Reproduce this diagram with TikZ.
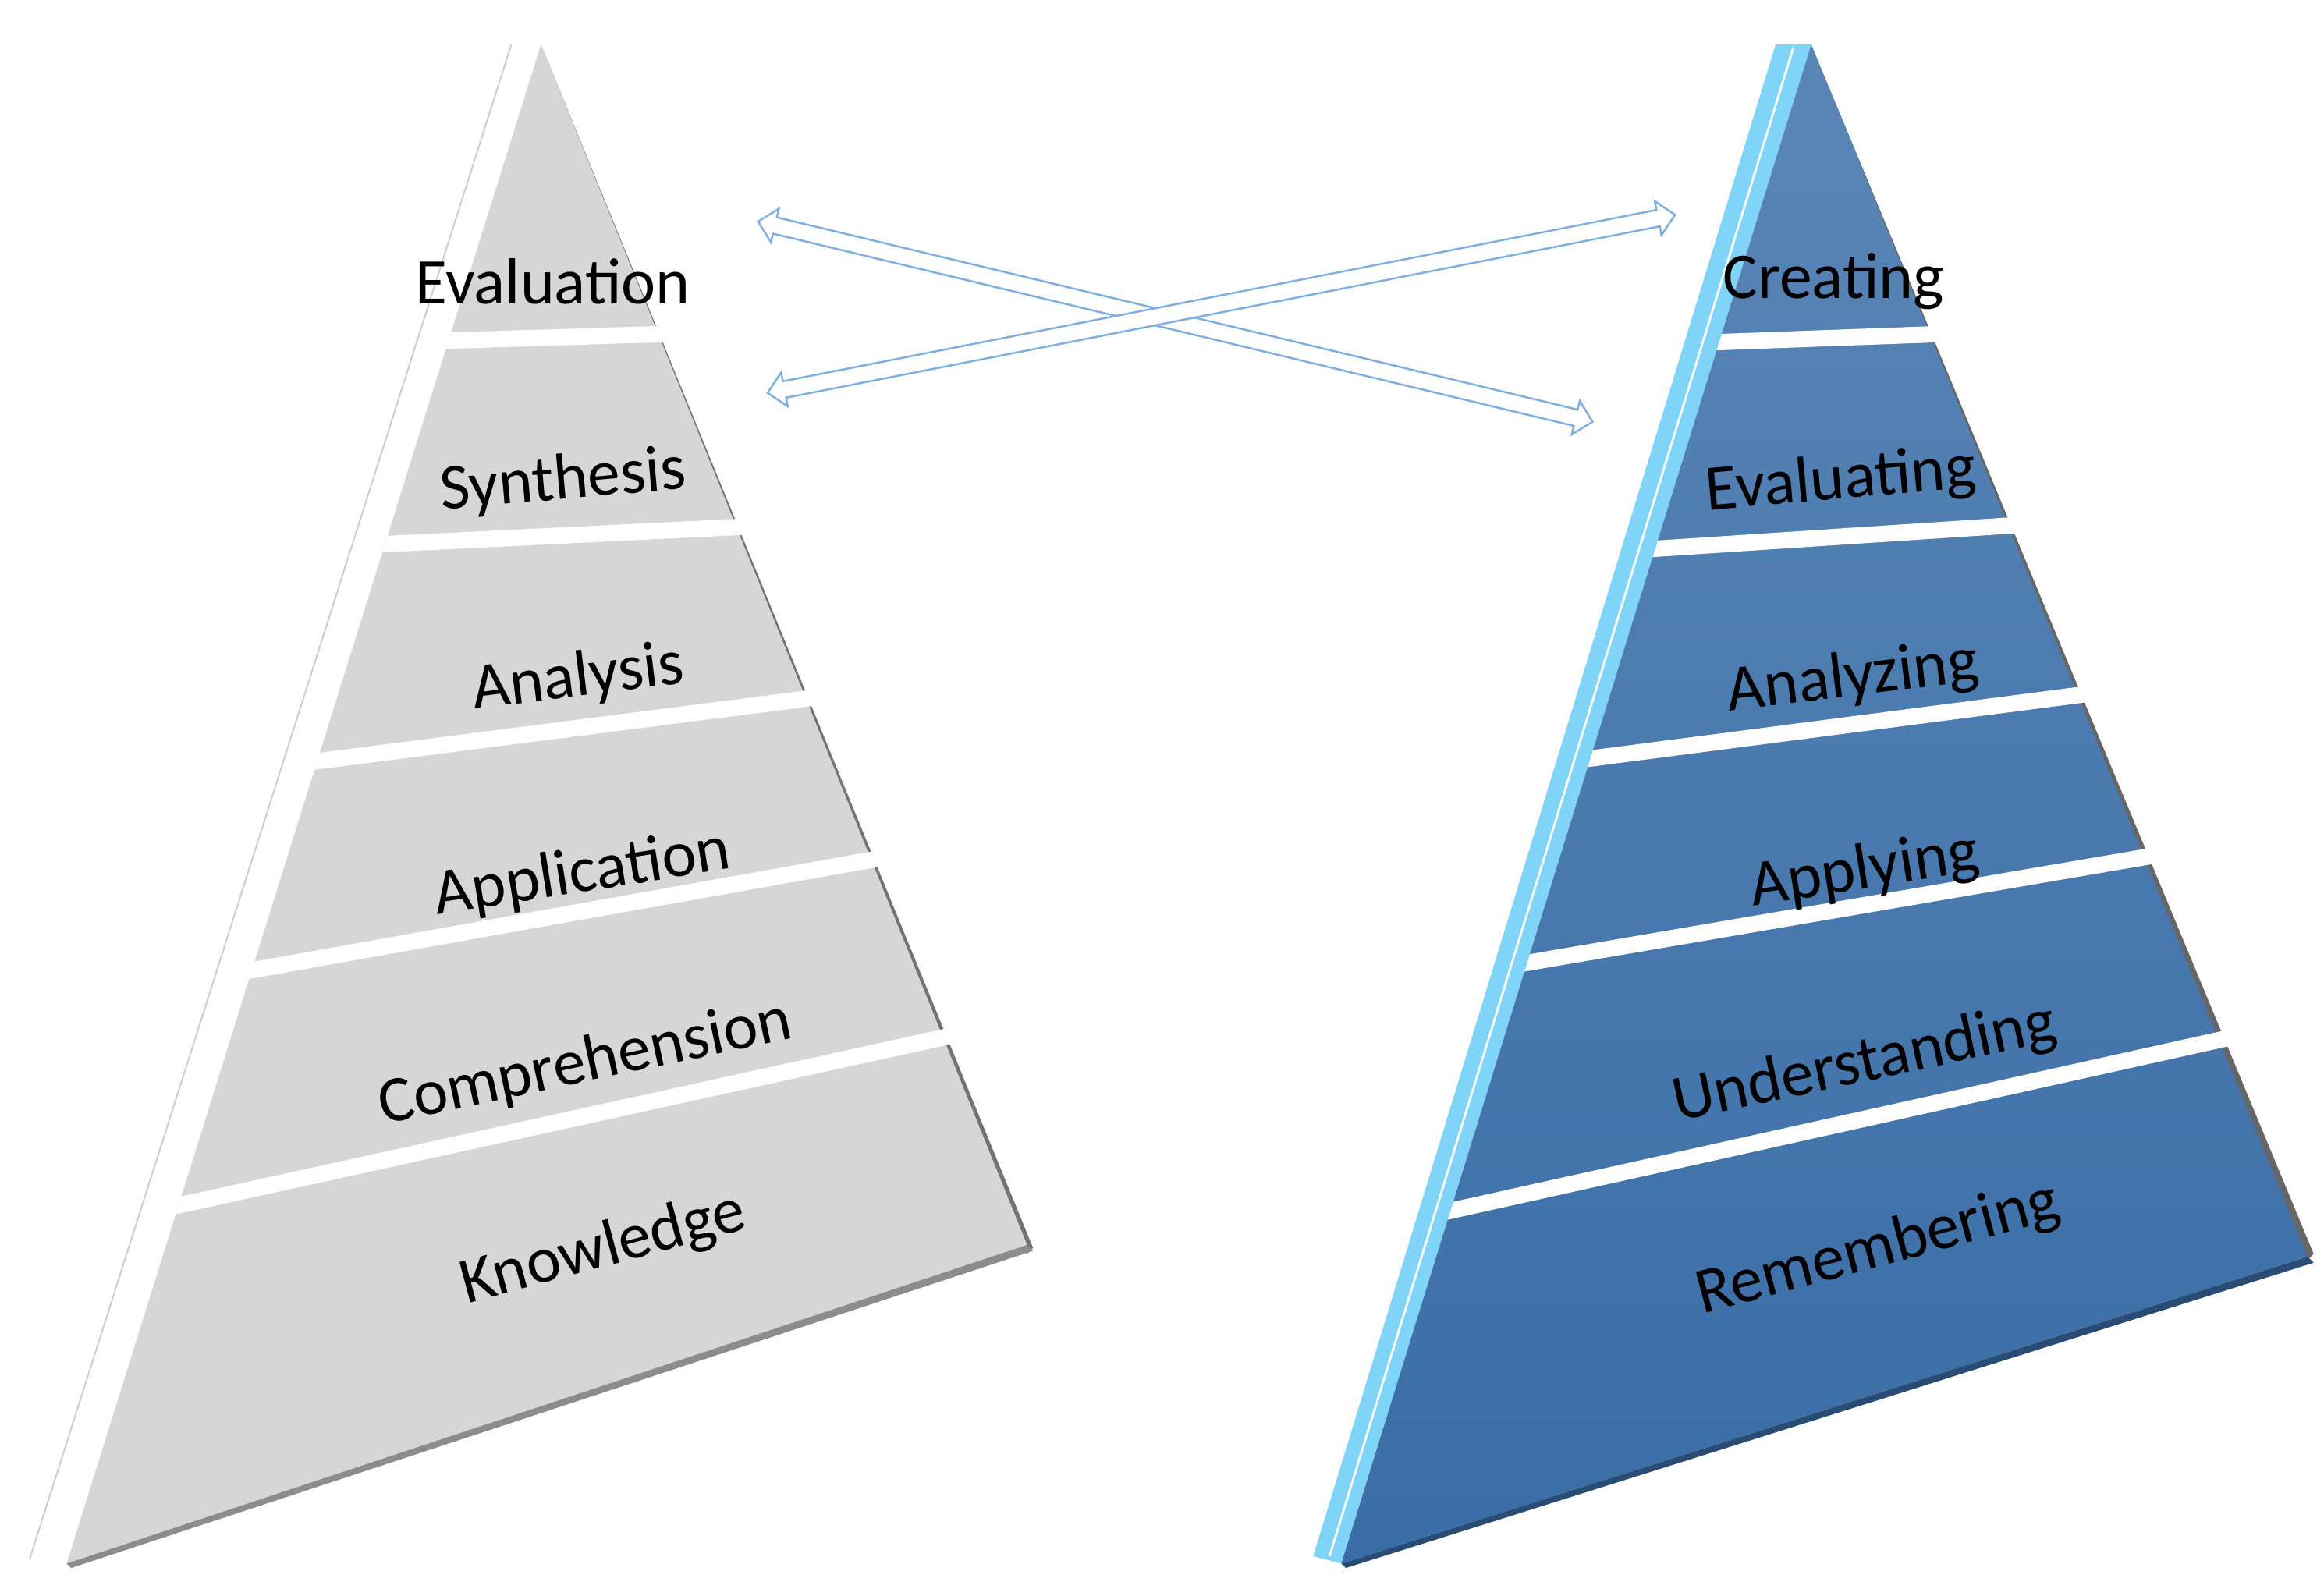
\documentclass[tikz,border=0pt]{standalone}
\usepackage{fontspec}
\setmainfont{Carlito}
\usetikzlibrary{shapes.arrows}
\definecolor{pgray}{HTML}{D6D6D6}
\definecolor{pblueT}{HTML}{5A86B6}
\definecolor{pblueB}{HTML}{3A6DA6}
\definecolor{pside}{HTML}{7FD4F8}
\definecolor{arr}{HTML}{7FAEE0}
\begin{document}
\begin{tikzpicture}[x=1pt,y=-1pt,
  lbl/.style={font=\fontsize{44}{46}\selectfont, text=black},
  sep/.style={white, line width=11pt},
  dbl/.style={double arrow, draw=arr, fill=white, line width=1.3pt,
     inner sep=5pt, double arrow head extend=6pt, double arrow head indent=0pt}]
\useasboundingbox (0,0) rectangle (1568,1072);
% ---------- left pyramid
\fill[white] (345,30) -- (365,30) -- (45,1055) -- (20,1052) -- cycle;
\draw[gray!40, line width=1pt] (345,30) -- (20,1052);
\fill[black!55] (365,30) -- (697,842) -- (693,846) -- cycle;
\fill[pgray] (365,30) -- (693,840) -- (45,1055) -- cycle;
\fill[black!45] (693,840) -- (697,844) -- (48,1058) -- (45,1055) -- cycle;
\begin{scope}
\clip (365,30) -- (700,840) -- (45,1055) -- cycle;
\draw[sep] (200,233) -- (460,225);
\draw[sep] (200,370) -- (510,355);
\draw[sep] (180,518) -- (555,470);
\draw[sep] (140,660) -- (600,578);
\draw[sep] (90,820) -- (650,697);
\end{scope}
\node[lbl] (l1) at (373,190) {Evaluation};
\node[lbl, rotate=5] (l2) at (380,325) {Synthesis};
\node[lbl, rotate=7] (l3) at (390,458) {Analysis};
\node[lbl, rotate=9] (l4) at (393,590) {Application};
\node[lbl, rotate=12] (l5) at (395,718) {Comprehension};
\node[lbl, rotate=15] (l6) at (407,843) {Knowledge};
% ---------- right pyramid
\fill[pside] (1198,30) -- (1222,30) -- (905,1055) -- (886,1050) -- cycle;
\draw[white, line width=1.5pt] (1210,32) -- (897,1050);
\fill[black!60] (1222,30) -- (1561,846) -- (1557,850) -- cycle;
\shade[top color=pblueT, bottom color=pblueB] (1222,30) -- (1557,848) -- (905,1055) -- cycle;
\fill[pblueB!70!black] (1557,848) -- (1561,852) -- (908,1058) -- (905,1055) -- cycle;
\begin{scope}
\clip (1222,30) -- (1564,848) -- (905,1055) -- cycle;
\draw[sep] (1100,233) -- (1320,225);
\draw[sep] (1060,374) -- (1365,354);
\draw[sep] (1010,520) -- (1410,468);
\draw[sep] (970,660) -- (1455,577);
\draw[sep] (920,830) -- (1505,700);
\end{scope}
\node[lbl] (r1) at (1237,190) {Creating};
\node[lbl, rotate=5] (r2) at (1242,325) {Evaluating};
\node[lbl, rotate=7] (r3) at (1250,458) {Analyzing};
\node[lbl, rotate=9] (r4) at (1258,588) {Applying};
\node[lbl, rotate=12] (r5) at (1258,718) {Understanding};
\node[lbl, rotate=15] (r6) at (1267,843) {Remembering};
% ---------- arrows
\node[dbl, minimum height=579pt, rotate=-13.5] (a1) at (793,217) {};
\node[dbl, minimum height=624pt, rotate=11.1] (a2) at (824,205) {};
\end{tikzpicture}
\end{document}
